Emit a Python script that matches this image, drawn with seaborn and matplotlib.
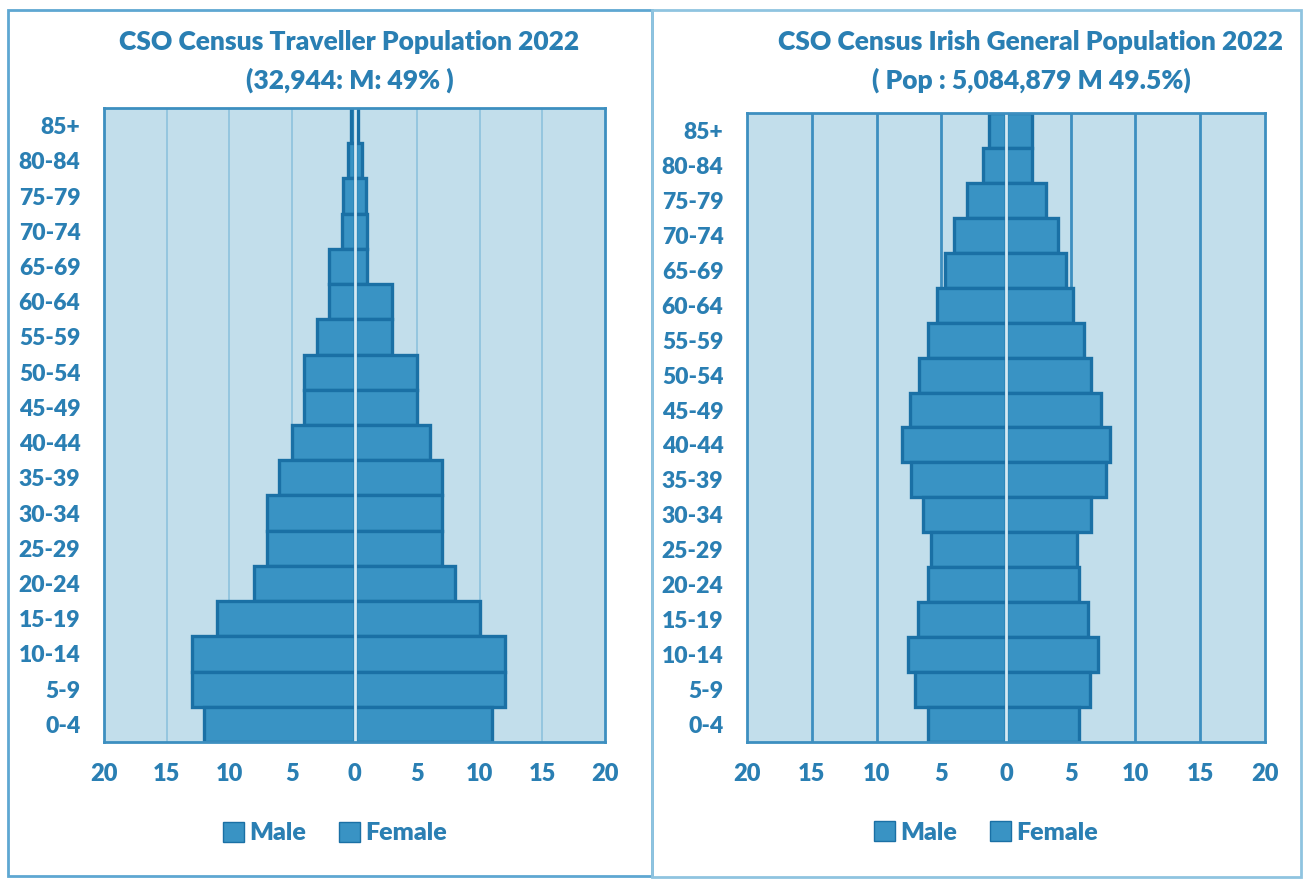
import matplotlib
matplotlib.use("Agg")
import matplotlib.pyplot as plt
from matplotlib.patches import Rectangle, Patch
import pandas as pd
import seaborn as sns

# Age bands, oldest at the top
ages = ["85+", "80-84", "75-79", "70-74", "65-69", "60-64", "55-59", "50-54",
        "45-49", "40-44", "35-39", "30-34", "25-29", "20-24", "15-19",
        "10-14", "5-9", "0-4"]

# Share of population (%) per age band
traveller_male = [0.3, 0.5, 0.9, 1.0, 2.0, 2.0, 3.0, 4.0, 4.0, 5.0, 6.0, 7.0,
                  7.0, 8.0, 11.0, 13.0, 13.0, 12.0]
traveller_female = [0.3, 0.6, 0.9, 1.0, 1.0, 3.0, 3.0, 5.0, 5.0, 6.0, 7.0, 7.0,
                    7.0, 8.0, 10.0, 12.0, 12.0, 11.0]
general_male = [1.3, 1.8, 3.0, 4.0, 4.7, 5.3, 6.0, 6.7, 7.4, 8.0, 7.3, 6.4,
                5.8, 6.0, 6.8, 7.6, 7.0, 6.0]
general_female = [2.0, 2.0, 3.1, 4.0, 4.6, 5.2, 6.0, 6.6, 7.3, 8.0, 7.7, 6.6,
                  5.5, 5.6, 6.3, 7.1, 6.5, 5.6]

x_ticks = [-20, -15, -10, -5, 0, 5, 10, 15, 20]
x_tick_labels = ["20", "15", "10", "5", "0", "5", "10", "15", "20"]

left_title = ["CSO Census Traveller Population 2022", "(32,944: M: 49% )"]
right_title = ["CSO Census Irish General Population 2022",
               "( Pop : 5,084,879 M 49.5%)"]

BAR = "#3993c4"
EDGE = "#1a70a5"
BG = "#c2deeb"
TEXT = "#2a7fb3"
CENTER = "#d6eaf3"
SPINE = "#3d8fc0"

sns.set_theme(style="white")
plt.rcParams["font.family"] = ["Lato", "DejaVu Sans"]
plt.rcParams["font.weight"] = "heavy"

W, H = 1308, 880
fig = plt.figure(figsize=(W / 100, H / 100), dpi=100)
fig.patch.set_facecolor("white")


def px_axes(x0, y0, x1, y1):
    return fig.add_axes([x0 / W, 1 - y1 / H, (x1 - x0) / W, (y1 - y0) / H])


def pyramid(ax, male, female, grid_color, grid_lw):
    df = pd.DataFrame({"age": ages,
                       "male": [-v for v in male],
                       "female": female})
    ax.set_facecolor(BG)
    for xv in [-15, -10, -5, 5, 10, 15]:
        ax.axvline(xv, color=grid_color, lw=grid_lw, zorder=1)
    for col in ["male", "female"]:
        sns.barplot(data=df, y="age", x=col, order=ages, orient="h",
                    color=BAR, saturation=1, width=1.0, edgecolor=EDGE,
                    linewidth=2.4, ax=ax, zorder=3)
    ax.axvline(0, color=CENTER, lw=2, zorder=6)
    ax.set_xlim(-20, 20)
    ax.set_ylim(len(ages) - 0.5, -0.5)
    ax.set_xticks(x_ticks)
    ax.set_xticklabels(x_tick_labels)
    ax.set_xlabel("")
    ax.set_ylabel("")
    ax.tick_params(axis="x", length=0, pad=15, labelsize=17, labelcolor=TEXT)
    ax.tick_params(axis="y", length=0, pad=17, labelsize=16.5, labelcolor=TEXT)
    for lab in ax.get_xticklabels() + ax.get_yticklabels():
        lab.set_fontweight("heavy")
    for sp in ax.spines.values():
        sp.set_visible(True)
        sp.set_color(SPINE)
        sp.set_linewidth(2)
        sp.set_zorder(7)
    handles = [Patch(facecolor=BAR, edgecolor=EDGE, label="Male"),
               Patch(facecolor=BAR, edgecolor=EDGE, label="Female")]
    leg = ax.legend(handles=handles, loc="center",
                    bbox_to_anchor=(0.461, -0.1435), ncol=2, frameon=False,
                    handlelength=0.85, handleheight=0.85, handletextpad=0.2,
                    columnspacing=1.3, prop={"size": 18, "weight": "heavy"})
    for t in leg.get_texts():
        t.set_color(TEXT)


ax_l = px_axes(104, 108, 605, 742)
pyramid(ax_l, traveller_male, traveller_female, "#8cc2dd", 1.2)

ax_r = px_axes(747, 113, 1265, 742)
pyramid(ax_r, general_male, general_female, "#3d8fc0", 2.0)

# Titles
for cx, lines in [(349.5, left_title), (1031, right_title)]:
    for cy, txt in zip([42, 80], lines):
        fig.text(cx / W, 1 - cy / H, txt, ha="center", va="center",
                 fontsize=19, fontweight="heavy", color=TEXT)

# Panel frames
for x0, y0, x1, y1, col in [(8, 10, 652, 876, "#5ea7d2"),
                            (652, 10, 1301, 877, "#8fc4e0")]:
    fig.add_artist(Rectangle((x0 / W, 1 - y1 / H), (x1 - x0) / W,
                             (y1 - y0) / H, transform=fig.transFigure,
                             fill=False, edgecolor=col, lw=2))

fig.savefig("out.png", dpi=100, facecolor="white")
